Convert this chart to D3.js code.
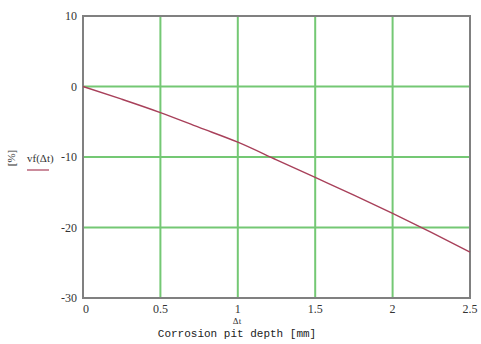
<!DOCTYPE html>
<html>
<head>
<meta charset="utf-8">
<script src="https://cdn.jsdelivr.net/npm/d3@7"></script>
<style>
  body { margin: 0; background: #fff; }
  svg { display: block; }
</style>
</head>
<body>
<div id="chart"></div>
<script>
// pit depth (mm) vs. volume-fraction change (%)
const depth = [0, 0.25, 0.5, 0.75, 1, 1.25, 1.5, 1.75, 2, 2.25, 2.5];
const vf = [0, -1.8, -3.7, -5.8, -7.9, -10.4, -12.9, -15.4, -18.0, -20.7, -23.5];
const xTicks = [0, 0.5, 1, 1.5, 2, 2.5];
const yTicks = [10, 0, -10, -20, -30];

const width = 481, height = 344;
const margin = { top: 16, right: 11, bottom: 46, left: 83 };
const innerW = width - margin.left - margin.right;
const innerH = height - margin.top - margin.bottom;

const x = d3.scaleLinear().domain([0, 2.5]).range([0, innerW]);
const y = d3.scaleLinear().domain([-30, 10]).range([innerH, 0]);

const svg = d3.select('#chart').append('svg')
  .attr('width', width).attr('height', height);

const g = svg.append('g').attr('transform', `translate(${margin.left},${margin.top})`);

// grid
g.selectAll('.vg').data(xTicks.slice(1, -1)).join('line')
  .attr('x1', d => x(d)).attr('x2', d => x(d))
  .attr('y1', 0).attr('y2', innerH)
  .attr('stroke', '#74c874').attr('stroke-width', 2);
g.selectAll('.hg').data(yTicks.slice(1, -1)).join('line')
  .attr('x1', 0).attr('x2', innerW)
  .attr('y1', d => y(d)).attr('y2', d => y(d))
  .attr('stroke', '#74c874').attr('stroke-width', 2);

// frame
g.append('rect').attr('width', innerW).attr('height', innerH)
  .attr('fill', 'none').attr('stroke', '#808080').attr('stroke-width', 2);

// curve
const line = d3.line().x((d, i) => x(depth[i])).y(d => y(d)).curve(d3.curveMonotoneX);
g.append('path').datum(vf)
  .attr('d', line).attr('fill', 'none')
  .attr('stroke', '#a8405a').attr('stroke-width', 1.4);

// tick labels
const tickFont = '"Liberation Serif", serif';
g.selectAll('.yl').data(yTicks).join('text')
  .attr('x', -6).attr('y', d => y(d)).attr('dy', '0.35em')
  .attr('text-anchor', 'end')
  .style('font', `12px ${tickFont}`).attr('fill', '#333')
  .text(d => d);
g.selectAll('.xl').data(xTicks).join('text')
  .attr('x', d => x(d)).attr('y', innerH + 15)
  .attr('text-anchor', d => d === 0 ? 'start' : 'middle')
  .style('font', `12px ${tickFont}`).attr('fill', '#333')
  .text(d => d);

// x axis title
svg.append('text').attr('x', 237).attr('y', 324)
  .attr('text-anchor', 'middle')
  .style('font', `9px ${tickFont}`).attr('fill', '#333')
  .text('\u0394t');
svg.append('text').attr('x', 237).attr('y', 337)
  .attr('text-anchor', 'middle')
  .style('font', '11px "Liberation Mono", monospace').attr('fill', '#222')
  .text('Corrosion pit depth [mm]');

// y axis title + legend
svg.append('text').attr('transform', 'translate(15,158) rotate(-90)')
  .attr('text-anchor', 'middle')
  .style('font', `11px ${tickFont}`).attr('fill', '#333')
  .text('[%]');
svg.append('text').attr('x', 27).attr('y', 162)
  .style('font', `11px ${tickFont}`).attr('fill', '#333')
  .text('vf(\u0394t)');
svg.append('line').attr('x1', 27).attr('x2', 49).attr('y1', 170).attr('y2', 170)
  .attr('stroke', '#a8405a').attr('stroke-width', 1.2);
</script>
</body>
</html>
